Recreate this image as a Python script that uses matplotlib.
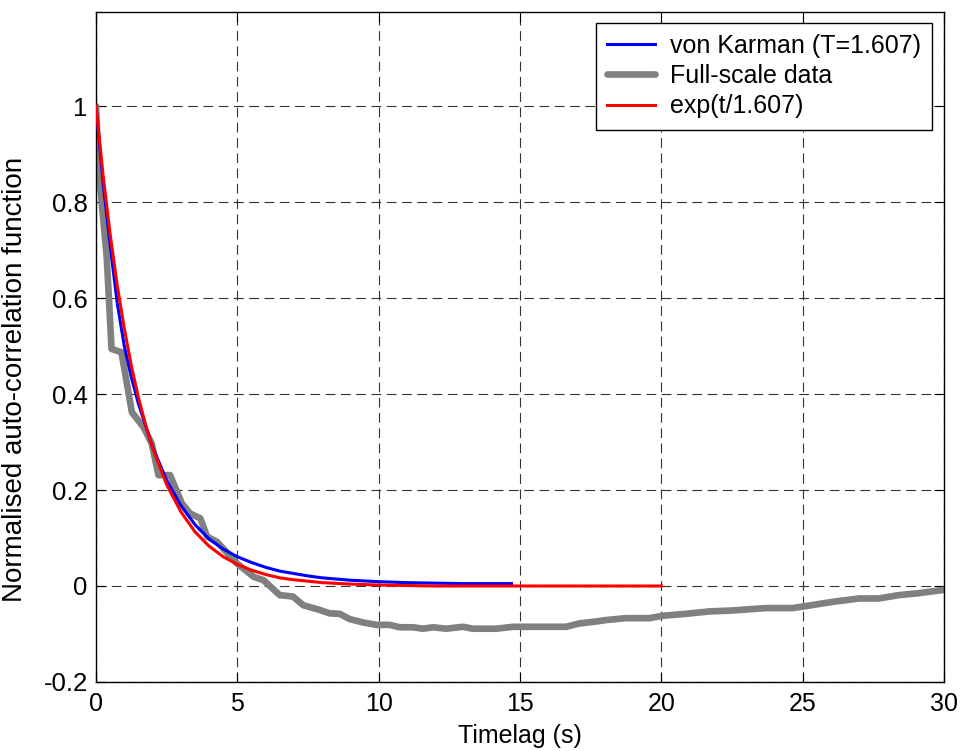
import matplotlib
matplotlib.use("Agg")
import matplotlib.pyplot as plt

plt.rcParams['font.family'] = ['Liberation Sans', 'DejaVu Sans']
plt.rcParams['lines.scale_dashes'] = False

# von Karman model autocorrelation (T=1.607)
vk_t = [0, 0.25, 0.5, 0.75, 1.0, 1.25, 1.5, 1.75, 2.0, 2.5, 3.0, 3.5, 4.0, 4.5,
        5.0, 5.5, 6.0, 6.5, 7.0, 7.5, 8.0, 9.0, 10.0, 11.0, 12.0, 13.0, 14.0, 14.7]
vk_r = [1.0, 0.84, 0.71, 0.59, 0.50, 0.435, 0.38, 0.335, 0.29, 0.22, 0.168, 0.128,
        0.098, 0.077, 0.061, 0.049, 0.039, 0.031, 0.026, 0.021, 0.017, 0.012, 0.009,
        0.007, 0.006, 0.005, 0.005, 0.005]

# Full-scale measured autocorrelation
fs_t = [0, 0.1, 0.2, 0.38, 0.55, 0.9, 1.27, 1.68, 1.97, 2.21, 2.62, 3.04, 3.33,
        3.69, 3.93, 4.28, 4.99, 5.58, 5.93, 6.5, 6.97, 7.33, 7.92, 8.27, 8.62,
        8.98, 9.45, 9.92, 10.39, 10.74, 11.21, 11.57, 11.92, 12.39, 12.98, 13.33,
        14.16, 14.75, 16.63, 17.1, 17.69, 18.04, 18.75, 19.58, 20.05, 20.87, 21.7,
        22.52, 23.7, 24.64, 25.1, 26.06, 27.0, 27.7, 28.4, 29.1, 30.0]
fs_r = [1.0, 0.87, 0.80, 0.685, 0.494, 0.487, 0.362, 0.331, 0.297, 0.231, 0.231,
        0.172, 0.151, 0.141, 0.103, 0.092, 0.047, 0.019, 0.012, -0.019, -0.022,
        -0.040, -0.050, -0.057, -0.058, -0.069, -0.076, -0.081, -0.081, -0.086,
        -0.086, -0.089, -0.086, -0.089, -0.085, -0.089, -0.089, -0.085, -0.085,
        -0.078, -0.074, -0.071, -0.067, -0.067, -0.062, -0.058, -0.053, -0.051,
        -0.046, -0.046, -0.042, -0.033, -0.026, -0.026, -0.019, -0.015, -0.008]

# Exponential fit exp(-t/1.607)
ex_t = [0, 0.25, 0.5, 0.75, 1.0, 1.25, 1.5, 1.75, 2.0, 2.5, 3.0, 3.5, 4.0, 4.5,
        5.0, 5.5, 6.0, 6.5, 7.0, 8.0, 9.0, 10.0, 11.0, 12.0, 14.0, 16.0, 18.0, 20.0]
ex_r = [1.0, 0.856, 0.733, 0.627, 0.537, 0.459, 0.393, 0.337, 0.288, 0.211, 0.155,
        0.113, 0.083, 0.061, 0.045, 0.033, 0.024, 0.017, 0.013, 0.007, 0.004, 0.002,
        0.001, 0.0, 0.0, 0.0, 0.0, 0.0]

x_ticks = [0, 5, 10, 15, 20, 25, 30]
y_ticks = [-0.2, 0, 0.2, 0.4, 0.6, 0.8, 1]
y_ticklabels = ['-0.2', '0', '0.2', '0.4', '0.6', '0.8', '1']

fig = plt.figure(figsize=(9.61, 7.51), dpi=100)
ax = fig.add_axes([0.0999, 0.0919, 0.8824, 0.8921])

ax.plot(vk_t, vk_r, color='#0000ff', lw=2.2, label='von Karman (T=1.607)', zorder=3)
ax.plot(fs_t, fs_r, color='#808080', lw=4.8, label='Full-scale data', zorder=2,
        solid_joinstyle='round', solid_capstyle='round')
ax.plot(ex_t, ex_r, color='#ff0000', lw=2.2, label='exp(t/1.607)', zorder=4)

ax.set_xlim(0, 30)
ax.set_ylim(-0.2, 1.196)
ax.set_xticks(x_ticks)
ax.set_xticklabels([str(v) for v in x_ticks])
ax.set_yticks(y_ticks)
ax.set_yticklabels(y_ticklabels)

ax.grid(True, color='#333333', linestyle=(0, (7, 4)), linewidth=0.8)
ax.set_axisbelow(True)
ax.tick_params(direction='in', top=True, right=True, length=7, width=0.8,
               colors='black')
ax.tick_params(axis='x', labelsize=18, pad=7)
ax.tick_params(axis='y', labelsize=18.5, pad=6)
for s in ax.spines.values():
    s.set_linewidth(1.0)
    s.set_color('black')

ax.set_xlabel('Timelag (s)', fontsize=18, labelpad=6)
ax.set_ylabel('Normalised auto-correlation function', fontsize=20)
ax.yaxis.set_label_coords(-0.080, 0.452)

leg = ax.legend(loc='upper right', bbox_to_anchor=(0.9858, 0.984), borderaxespad=0,
                fontsize=18, handlelength=1.9, labelspacing=0.25, handletextpad=0.6,
                borderpad=0.45, fancybox=False, framealpha=1, edgecolor='black')
leg.get_frame().set_linewidth(1.0)

fig.savefig('out.png', dpi=100)
